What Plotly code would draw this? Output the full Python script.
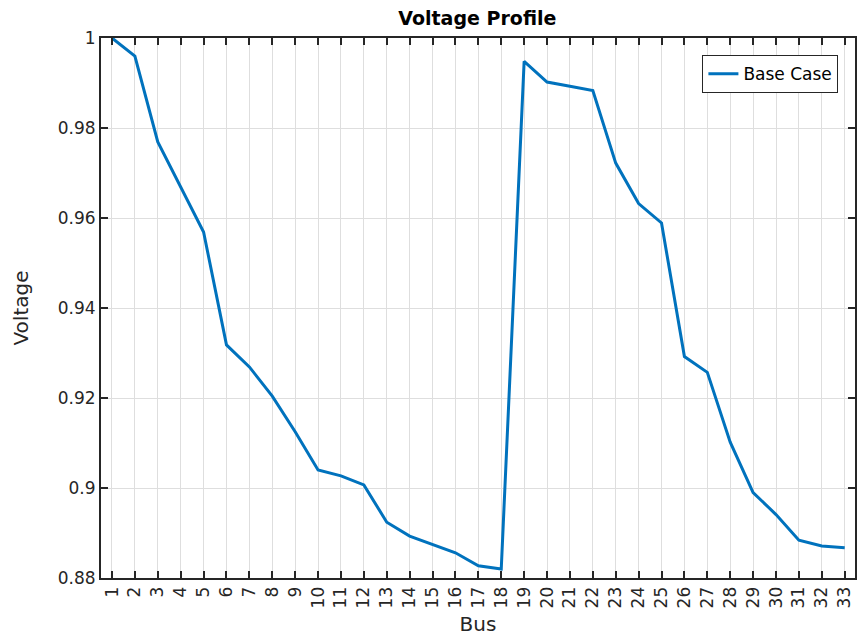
import plotly.graph_objects as go

# bus numbers and base case voltage (p.u.)
bus = list(range(1, 34))
voltage = [1.0000, 0.9960, 0.9769, 0.9670, 0.9569, 0.9318, 0.9269, 0.9204, 0.9125, 0.9040,
           0.9027, 0.9007, 0.8924, 0.8893, 0.8874, 0.8856, 0.8827, 0.8820, 0.9948, 0.9902,
           0.9893, 0.9883, 0.9722, 0.9632, 0.9589, 0.9292, 0.9257, 0.9102, 0.8990, 0.8941,
           0.8884, 0.8871, 0.8867]
y_ticks = [0.88, 0.90, 0.92, 0.94, 0.96, 0.98, 1.0]
y_labels = ["0.88", "0.9", "0.92", "0.94", "0.96", "0.98", "1"]

FONT = "DejaVu Sans, Arial, sans-serif"
INK = "#262626"

fig = go.Figure()
fig.add_trace(go.Scatter(x=bus, y=voltage, mode="lines", name="Base Case",
                         line=dict(color="#0072BD", width=3)))

axis_common = dict(showline=True, linecolor=INK, linewidth=2, mirror="ticks",
                   ticks="inside", ticklen=7, tickwidth=2, tickcolor=INK,
                   showgrid=True, gridcolor="#dedede", gridwidth=1, zeroline=False,
                   automargin=False,
                   tickfont=dict(family=FONT, size=17, color=INK))

fig.update_xaxes(range=[0.52, 33.45], tickvals=bus, ticktext=[str(b) for b in bus],
                 tickangle=-90,
                 title=dict(text="Bus", font=dict(family=FONT, size=20, color=INK), standoff=10),
                 **axis_common)
fig.update_yaxes(range=[0.88, 1.0], tickvals=y_ticks, ticktext=y_labels,
                 title=dict(text="Voltage", font=dict(family=FONT, size=20, color=INK), standoff=24),
                 **axis_common)

fig.update_layout(
    width=857, height=640,
    margin=dict(l=101, r=2, t=38, b=62, autoexpand=False),
    paper_bgcolor="white", plot_bgcolor="white",
    title=dict(text="<b>Voltage Profile</b>", x=0.557, xanchor="center", y=0.972, yanchor="middle",
               font=dict(family=FONT, size=19, color="black")),
    legend=dict(x=0.978, y=0.968, xanchor="right", yanchor="top",
                bgcolor="white", bordercolor=INK, borderwidth=1,
                font=dict(family=FONT, size=17, color="black")),
    showlegend=True,
)

# drop the default body margin so the figure sits at the page corner
fig.write_html("out.html", config={"displayModeBar": False},
               post_script="document.body.style.margin='0';")
